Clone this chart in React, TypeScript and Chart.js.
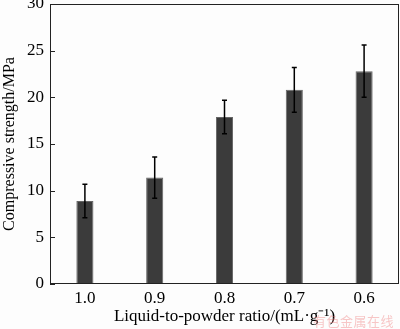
import React, { useEffect, useRef } from "react";
import { Chart, registerables } from "chart.js";

Chart.register(...registerables);

const categories = ["1.0", "0.9", "0.8", "0.7", "0.6"];
const strength = [8.9, 11.4, 17.9, 20.8, 22.8];
const errors = [1.8, 2.2, 1.8, 2.4, 2.8];
const yTicks = [0, 5, 10, 15, 20, 25, 30];

const SERIF = "'Liberation Serif', 'Times New Roman', serif";

const framePlugin = {
  id: "frameAndErrors",
  afterDatasetsDraw(chart: any) {
    const ctx = chart.ctx;
    const meta = chart.getDatasetMeta(0);
    const ys = chart.scales.y;
    ctx.save();
    ctx.strokeStyle = "#000";
    ctx.lineWidth = 1.5;
    meta.data.forEach((bar: any, i: number) => {
      const x = bar.x;
      const t = ys.getPixelForValue(strength[i] + errors[i]);
      const b = ys.getPixelForValue(strength[i] - errors[i]);
      ctx.beginPath();
      ctx.moveTo(x, t);
      ctx.lineTo(x, b);
      ctx.moveTo(x - 2.5, t);
      ctx.lineTo(x + 2.5, t);
      ctx.moveTo(x - 2.5, b);
      ctx.lineTo(x + 2.5, b);
      ctx.stroke();
    });
    ctx.restore();
  },
  afterDraw(chart: any) {
    const ctx = chart.ctx;
    const a = chart.chartArea;
    const ys = chart.scales.y;
    ctx.save();
    ctx.strokeStyle = "#222";
    ctx.lineWidth = 1;
    ctx.strokeRect(Math.round(a.left) + 0.5, Math.round(a.top) + 0.5, Math.round(a.right - a.left) - 1, Math.round(a.bottom - a.top) - 1);
    ctx.beginPath();
    yTicks.forEach((v) => {
      const y = Math.round(ys.getPixelForValue(v)) + 0.5;
      ctx.moveTo(a.left, y);
      ctx.lineTo(a.left + 5, y);
    });
    ctx.stroke();
    ctx.restore();
  },
};

export default function App() {
  const ref = useRef<HTMLCanvasElement>(null);
  useEffect(() => {
    const chart = new Chart(ref.current as HTMLCanvasElement, {
      type: "bar",
      data: {
        labels: categories,
        datasets: [
          {
            data: strength,
            backgroundColor: "#3b3b3b",
            borderColor: "#666",
            borderWidth: 1,
            barPercentage: 0.245,
            categoryPercentage: 1,
          },
        ],
      },
      options: {
        animation: false,
        responsive: false,
        layout: { padding: { top: 4, right: 1, left: 0, bottom: 0 } },
        plugins: { legend: { display: false }, tooltip: { enabled: false } },
        scales: {
          x: {
            grid: { display: false, drawTicks: false },
            border: { display: false },
            ticks: { color: "#000", font: { family: SERIF, size: 17 }, padding: 4 },
            title: {
              display: true,
              text: "Liquid-to-powder ratio/(mL·g⁻¹)",
              color: "#000",
              font: { family: SERIF, size: 17 },
              padding: { top: 0, bottom: 2 },
            },
            afterFit: (s: any) => {
              s.height = 45;
              s.paddingLeft = 0;
              s.paddingRight = 0;
            },
          },
          y: {
            min: 0,
            max: 30,
            grid: { display: false, drawTicks: false },
            border: { display: false },
            ticks: { stepSize: 5, color: "#000", font: { family: SERIF, size: 17 }, padding: 6 },
            title: {
              display: true,
              text: "Compressive strength/MPa",
              color: "#000",
              font: { family: SERIF, size: 16 },
              padding: { top: 0, bottom: 0 },
            },
            afterFit: (s: any) => {
              s.width = 50;
              s.paddingTop = 0;
              s.paddingBottom = 0;
            },
          },
        },
      },
      plugins: [framePlugin],
    });
    return () => chart.destroy();
  }, []);
  return (
    <div style={{ position: "absolute", left: 0, top: 0, width: 400, height: 329, background: "#fdfdfd" }}>
      <canvas ref={ref} width={400} height={329} style={{ display: "block" }} />
      <span
        style={{
          position: "absolute",
          left: 313,
          top: 311,
          fontFamily: "'Noto Sans CJK SC', sans-serif",
          fontSize: 13,
          color: "rgba(240,130,130,0.45)",
          letterSpacing: 0.5,
          pointerEvents: "none",
        }}
      >
        有色金属在线
      </span>
    </div>
  );
}
